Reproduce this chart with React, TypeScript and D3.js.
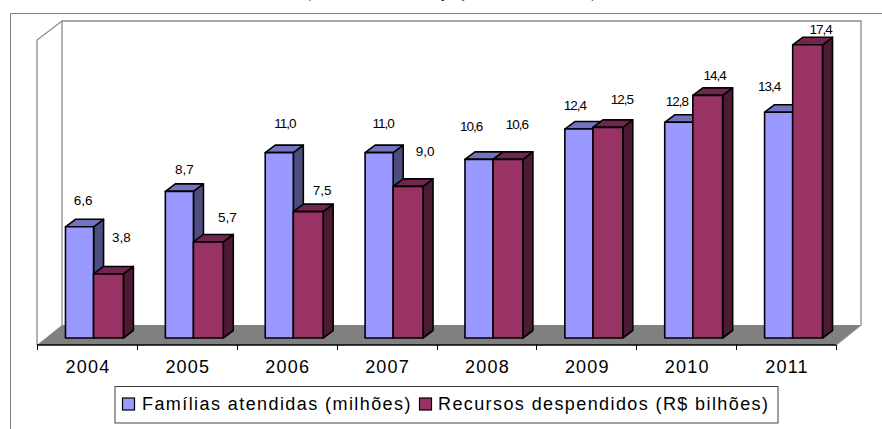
import React from "react";
import * as d3 from "d3";

const years = ["2004", "2005", "2006", "2007", "2008", "2009", "2010", "2011"];
const familias = [6.6, 8.7, 11.0, 11.0, 10.6, 12.4, 12.8, 13.4];
const recursos = [3.8, 5.7, 7.5, 9.0, 10.6, 12.5, 14.4, 17.4];
const seriesNames = ["Famílias atendidas (milhões)", "Recursos despendidos (R$ bilhões)"];
const clippedTitle = "(famílias em milhões e preços constantes de 2011)";

// label nudges as placed in the reference (layout only)
const famDx = [3.5, 5, 5.5, 4, -8, -4, -2, -9.5];
const famDy = [-26, -22, -29, -29, -33, -24, -21, -26];
const recDx = [13, 19, 14, 17, 9, 14, 7, 13];
const recDy = [-36, -24, -21, -35, -35, -28, -20, -15];

const W = 882, H = 429;
const baseY = 338, axisY = 345, wallX0 = 62, wallX1 = 861, wallTop = 21, wallBottom = 325;
const axisX0 = 37, axisX1 = 836, sideTop = 40;
const depthX = 10, depthY = 7.5;
const font = "'Liberation Sans', Arial, sans-serif";

const blue = { front: "#9999FF", top: "#7373BF", side: "#4D4D80" };
const red = { front: "#993366", top: "#73264D", side: "#4D1A33" };

const y = d3.scaleLinear().domain([0, 18]).range([baseY, baseY - 18 * 16.85]);
const x = d3.scaleBand<string>().domain(years).range([axisX0 + 7.5, axisX1 + 7.5]).paddingInner(0.42).paddingOuter(0.21);
const tickScale = d3.scaleLinear().domain([0, years.length]).range([axisX0, axisX1]);

function Bar({ x0, x1, v, c }: { x0: number; x1: number; v: number; c: typeof blue }) {
  const t = y(v);
  const pts = (a: number[][]) => a.map((p) => p.join(",")).join(" ");
  return (
    <g stroke="#000" strokeWidth={1.6} strokeLinejoin="round">
      <polygon points={pts([[x1, t], [x1 + depthX, t - depthY], [x1 + depthX, baseY - depthY], [x1, baseY]])} fill={c.side} />
      <polygon points={pts([[x0, t], [x0 + depthX, t - depthY], [x1 + depthX, t - depthY], [x1, t]])} fill={c.top} />
      <rect x={x0} y={t} width={x1 - x0} height={baseY - t} fill={c.front} />
    </g>
  );
}

function Label({ cx, cy, text }: { cx: number; cy: number; text: string }) {
  return (
    <text x={cx} y={cy} textAnchor="middle" dominantBaseline="central" fontFamily={font} fontSize={13.5}
      letterSpacing={text.startsWith("1") ? -1 : 0} fill="#000">{text}</text>
  );
}

export default function App() {
  const bw = x.bandwidth();
  const split = 0.485;
  return (
    <svg width={W} height={H} viewBox={`0 0 ${W} ${H}`} style={{ position: "absolute", left: 0, top: 0, background: "#fff" }}>
      <text x={451} y={-2} textAnchor="middle" fontFamily="'Liberation Serif', serif" fontSize={14.4} fill="#000">{clippedTitle}</text>

      <path d={`M10.5,${H} V13.5 H${W}`} fill="none" stroke="#808080" strokeWidth={1} />

      <polygon points={`${axisX0},${axisY} ${wallX0},${wallBottom} ${wallX1},${wallBottom} ${axisX1},${axisY}`} fill="#808080" />
      <path d={`M${axisX0},${axisY} V${sideTop} L${wallX0},${wallTop} V${wallBottom} M${wallX0},${wallTop} H${wallX1} V${wallBottom} L${axisX1},${axisY}`}
        fill="none" stroke="#8c8c8c" strokeWidth={1.3} />

      {years.map((yr, i) => {
        const x0 = x(yr)!;
        const xm = x0 + bw * split;
        return (
          <g key={yr}>
            <Bar x0={x0} x1={xm} v={familias[i]} c={blue} />
            <Bar x0={xm} x1={x0 + bw} v={recursos[i]} c={red} />
          </g>
        );
      })}

      <line x1={axisX0} x2={axisX1} y1={axisY} y2={axisY} stroke="#000" strokeWidth={1.3} />
      {d3.range(years.length + 1).map((i) => (
        <line key={i} x1={Math.round(tickScale(i)) + 0.5} x2={Math.round(tickScale(i)) + 0.5} y1={axisY} y2={axisY + 5} stroke="#000" strokeWidth={1} />
      ))}
      {years.map((yr, i) => (
        <text key={yr} x={tickScale(i + 0.5) + 1} y={373} textAnchor="middle" fontFamily={font} fontSize={18} letterSpacing={1.2} fill="#000">{yr}</text>
      ))}

      {years.map((yr, i) => {
        const x0 = x(yr)!;
        const xm = x0 + bw * split;
        return (
          <g key={yr}>
            <Label cx={(x0 + xm) / 2 + famDx[i]} cy={y(familias[i]) + famDy[i]} text={d3.format(".1f")(familias[i]).replace(".", ",")} />
            <Label cx={(xm + x0 + bw) / 2 + recDx[i]} cy={y(recursos[i]) + recDy[i]} text={d3.format(".1f")(recursos[i]).replace(".", ",")} />
          </g>
        );
      })}

      <rect x={115} y={386.5} width={663} height={36.5} fill="#fff" stroke="#404040" strokeWidth={1} />
      <rect x={122.5} y={398} width={12} height={12} fill={blue.front} stroke="#000" strokeWidth={1.2} />
      <text x={142} y={410} fontFamily={font} fontSize={18} letterSpacing={1.42} fill="#000">{seriesNames[0]}</text>
      <rect x={419.5} y={398} width={12} height={12} fill={red.front} stroke="#000" strokeWidth={1.2} />
      <text x={438} y={410} fontFamily={font} fontSize={18} letterSpacing={1.4} fill="#000">{seriesNames[1]}</text>
    </svg>
  );
}
